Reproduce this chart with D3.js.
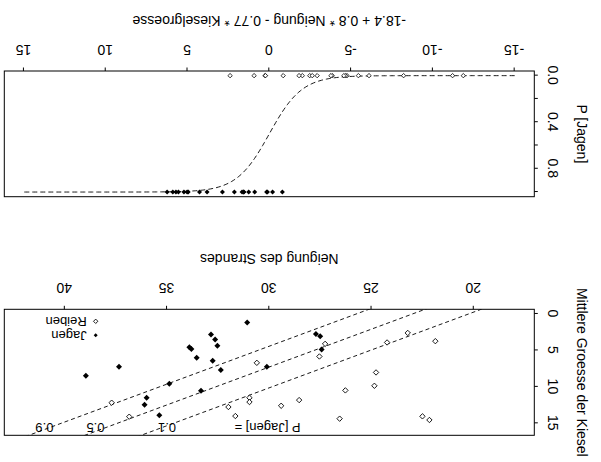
<!DOCTYPE html>
<html>
<head>
<meta charset="utf-8">
<script src="https://cdn.jsdelivr.net/npm/d3@7"></script>
<style>
body{margin:0;background:#fff}
text{font-family:"Liberation Sans",Arial,sans-serif;fill:#000}
</style>
</head>
<body>
<svg id="chart" width="601" height="462"></svg>
<script>
// Jagen (filled diamonds): Neigung des Strandes, Mittlere Groesse der Kiesel
const jagenNeigung = [33.91, 33.81, 33.55, 37.35, 38.97, 34.89, 36.0, 36.1, 35.38, 33.34,
                      31.08, 32.85, 32.65, 32.54, 32.77, 32.37, 30.12, 27.72, 27.51, 27.44]
const jagenKiesel  = [4.56, 4.79, 6.02, 7.25, 8.48, 9.58, 11.49, 12.45, 13.9, 10.53,
                      1.18, 2.82, 3.5, 4.37, 6.43, 7.7, 7.25, 2.74, 3.05, 4.87]
// Reiben (open diamonds)
const reibenNeigung = [30.61, 27.27, 27.55, 24.24, 24.78, 24.86, 26.28, 28.54, 29.42, 30.97,
                       30.97, 32.0, 31.66, 26.56, 37.71, 36.85, 23.23, 21.88, 22.51, 22.17]
const reibenKiesel  = [6.7, 4.1, 5.83, 3.91, 8.02, 9.85, 10.48, 11.81, 12.59, 11.49,
                       12.08, 12.76, 14.0, 14.36, 12.17, 14.09, 2.6, 3.73, 14.04, 14.54]

// model from the axis title: -18.4 + 0.8 * Neigung - 0.77 * Kieselgroesse
const intercept = -18.4, bNeigung = 0.8, bKiesel = 0.77

const neigungTicks = [20, 25, 30, 35, 40]
const kieselTicks = [0, 5, 10, 15]
const etaTicks = [-15, -10, -5, 0, 5, 10, 15]
const pTicks = [0, 0.2, 0.4, 0.6, 0.8, 1]
const pTickLabels = ["0.0", "", "0.4", "", "0.8", ""]
const contourP = [0.1, 0.5, 0.9]
const contourLabelAt = [35, 38.5, 41]   // Neigung where each P label sits

const eta = (n, k) => intercept + bNeigung * n - bKiesel * k
const jagen = jagenNeigung.map((n, i) => ({n: n, k: jagenKiesel[i]}))
const reiben = reibenNeigung.map((n, i) => ({n: n, k: reibenKiesel[i]}))

const diamond = r => `M0,${-r}L${r},0L0,${r}L${-r},0Z`
const font = '"Liberation Sans",Arial,sans-serif'

let svg = d3.select("#chart")
svg.append("rect").attr("width", 601).attr("height", 462).attr("fill", "#fff")
// the whole figure is shown upside down
let g = svg.append("g").attr("transform", "rotate(180,300.5,231)")

const left = 66.7, right = 596.7
const sTop = 26.7, sBot = 152.7     // scatter panel
const lTop = 265.3, lBot = 391      // logistic panel
const tickLen = 3.5, labOff = 21.6, titleOff = 50.5, yLab = 48.3, yTitle = 19.3

let x = d3.scaleLinear().domain([17.04, 42.96]).range([left, right])
let y = d3.scaleLinear().domain([-0.64, 16.64]).range([sBot, sTop])
let xe = d3.scaleLinear().domain([-16.2, 16.2]).range([left, right])
let yp = d3.scaleLinear().domain([-0.04, 1.04]).range([lBot, lTop])

function bottomAxis(scale, ticks, yPos) {
    g.append("g").attr("transform", `translate(0,${yPos})`)
        .call(d3.axisBottom(scale).tickValues(ticks).tickSize(tickLen).tickFormat(d => String(d)))
        .attr("font-size", 14).attr("font-family", font)
        .call(a => a.select(".domain").remove())
        .call(a => a.selectAll("line").attr("stroke", "#000"))
        .call(a => a.selectAll("text").attr("y", labOff).attr("dy", "0.35em"))
}
function leftAxis(scale, ticks, labels) {
    g.append("g").attr("transform", `translate(${left},0)`)
        .call(d3.axisLeft(scale).tickValues(ticks).tickSize(tickLen).tickFormat((d, i) => labels[i]))
        .attr("font-size", 14).attr("font-family", font)
        .call(a => a.select(".domain").remove())
        .call(a => a.selectAll("line").attr("stroke", "#000"))
        .call(a => a.selectAll("text").attr("x", null).attr("text-anchor", "middle")
            .attr("dy", "0.35em").attr("transform", `translate(${yLab - left},0) rotate(-90)`))
}
function yTitleText(txt, cy) {
    g.append("text").attr("transform", `translate(${yTitle},${cy}) rotate(-90)`)
        .attr("text-anchor", "middle").attr("dy", "0.35em").attr("font-size", 14).text(txt)
}

////////////////////// scatter panel //////////////////////
g.append("clipPath").attr("id", "clipS").append("rect")
    .attr("x", left).attr("y", sTop).attr("width", right - left).attr("height", sBot - sTop)

let contours = g.append("g").attr("clip-path", "url(#clipS)")
contourP.forEach(function (p) {
    let e0 = Math.log(p / (1 - p))
    let nn = x.domain()
    contours.append("line")
        .attr("x1", x(nn[0])).attr("y1", y((intercept + bNeigung * nn[0] - e0) / bKiesel))
        .attr("x2", x(nn[1])).attr("y2", y((intercept + bNeigung * nn[1] - e0) / bKiesel))
        .attr("stroke", "#000").attr("stroke-width", 0.9).attr("stroke-dasharray", "4,3")
})
contourP.forEach(function (p, i) {
    g.append("text").attr("x", x(contourLabelAt[i])).attr("y", y(15.6)).attr("dy", "0.35em")
        .attr("text-anchor", "middle").attr("font-size", 13).text(p)
})
g.append("text").attr("x", x(31.7)).attr("y", y(15.6)).attr("dy", "0.35em")
    .attr("text-anchor", "end").attr("font-size", 13).text("P [Jagen] =")

g.append("g").selectAll("path").data(reiben).join("path")
    .attr("transform", d => `translate(${x(d.n)},${y(d.k)})`)
    .attr("d", diamond(2.7)).attr("fill", "#fff").attr("stroke", "#000").attr("stroke-width", 0.9)
g.append("g").selectAll("path").data(jagen).join("path")
    .attr("transform", d => `translate(${x(d.n)},${y(d.k)})`)
    .attr("d", diamond(3)).attr("fill", "#000")

// legend
let lg = g.append("g").attr("transform", "translate(505.3,126.7)")
lg.append("path").attr("d", diamond(2)).attr("fill", "#000")
lg.append("path").attr("transform", "translate(0,14)").attr("d", diamond(2.2))
    .attr("fill", "#fff").attr("stroke", "#000").attr("stroke-width", 0.9)
lg.append("text").attr("x", 9).attr("dy", "0.35em").attr("font-size", 13).text("Jagen")
lg.append("text").attr("x", 9).attr("y", 14).attr("dy", "0.35em").attr("font-size", 13).text("Reiben")

g.append("rect").attr("x", left).attr("y", sTop).attr("width", right - left).attr("height", sBot - sTop)
    .attr("fill", "none").attr("stroke", "#000")
bottomAxis(x, neigungTicks, sBot)
leftAxis(y, kieselTicks, kieselTicks.map(String))
g.append("text").attr("x", (left + right) / 2).attr("y", sBot + titleOff).attr("dy", "0.35em")
    .attr("text-anchor", "middle").attr("font-size", 14).text("Neigung des Strandes")
yTitleText("Mittlere Groesse der Kiesel", (sTop + sBot) / 2)

////////////////////// logistic panel //////////////////////
let curve = d3.range(-15, 15.0001, 0.1).map(e => [e, 1 / (1 + Math.exp(-e))])
g.append("path").datum(curve)
    .attr("d", d3.line().x(d => xe(d[0])).y(d => yp(d[1])))
    .attr("fill", "none").attr("stroke", "#000").attr("stroke-width", 0.9).attr("stroke-dasharray", "5,3")

g.append("g").selectAll("path").data(reiben).join("path")
    .attr("transform", d => `translate(${xe(eta(d.n, d.k))},${yp(0)})`)
    .attr("d", diamond(2.2)).attr("fill", "#fff").attr("stroke", "#000").attr("stroke-width", 0.8)
g.append("g").selectAll("path").data(jagen).join("path")
    .attr("transform", d => `translate(${xe(eta(d.n, d.k))},${yp(1)})`)
    .attr("d", diamond(2.5)).attr("fill", "#000")

g.append("rect").attr("x", left).attr("y", lTop).attr("width", right - left).attr("height", lBot - lTop)
    .attr("fill", "none").attr("stroke", "#000")
bottomAxis(xe, etaTicks, lBot)
leftAxis(yp, pTicks, pTickLabels)
g.append("text").attr("x", (left + right) / 2).attr("y", lBot + titleOff).attr("dy", "0.35em")
    .attr("text-anchor", "middle").attr("font-size", 14)
    .text("-18.4 + 0.8 * Neigung - 0.77 * Kieselgroesse")
yTitleText("P [Jagen]", (lTop + lBot) / 2)
</script>
</body>
</html>
